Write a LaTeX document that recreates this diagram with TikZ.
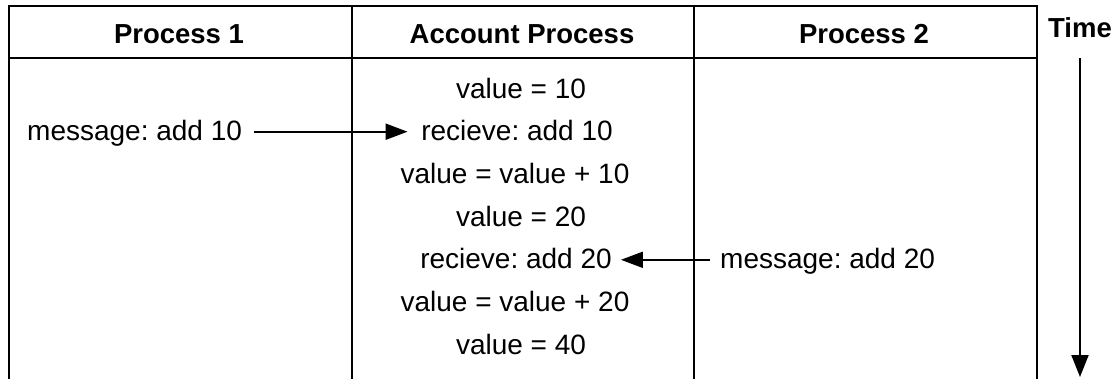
\documentclass[tikz,border=0pt]{standalone}
\usepackage{fontspec}
\setmainfont{Liberation Sans}
\usetikzlibrary{arrows.meta}

\begin{document}
\frenchspacing
\begin{tikzpicture}[x=1pt,y=-1pt,
  grid/.style={line width=2.4pt, line cap=rect},
  txt/.style={font=\fontsize{28}{32}\selectfont, inner sep=0pt,
              text height=20pt, text depth=2pt, anchor=base},
  head/.style={txt, font=\fontsize{27.5}{32}\selectfont\bfseries},
  msg/.style={line width=2pt, -{Triangle[length=22pt,width=16pt]}},
]
\useasboundingbox (0,0) rectangle (1120,378);

% table frame, open at the bottom
\draw[grid] (9,380) -- (9,6) -- (1037,6) -- (1037,380);
\draw[grid] (9,58) -- (1037,58);
\draw[grid] (352,6) -- (352,380);
\draw[grid] (694,6) -- (694,380);

% column headings
\node[head] (h1) at (179,43) {Process 1};
\node[head] (h2) at (522,43) {Account Process};
\node[head] (h3) at (864,43) {Process 2};
\node[head] (time) at (1080,37) {Time};

% account process timeline
\node[txt] (v10)  at (521,98)    {value = 10};
\node[txt] (r10)  at (517,140.7) {recieve: add 10};
\node[txt] (u10)  at (515,183.4) {value = value + 10};
\node[txt] (v20)  at (521,226)   {value = 20};
\node[txt] (r20)  at (516,268.8) {recieve: add 20};
\node[txt] (u20)  at (515,311.5) {value = value + 20};
\node[txt] (v40)  at (521,354.2) {value = 40};

% messages from the other processes
\node[txt, anchor=base west] (m10) at (27,140.7)  {message: add 10};
\node[txt, anchor=base west] (m20) at (720,268.8) {message: add 20};

\draw[msg, shorten <=12pt, shorten >=13.5pt] (m10.east) -- (r10.west);
\draw[msg, shorten <=10pt, shorten >=9pt] (m20.west) -- (r20.east);

% time axis
\coordinate (tend) at (1080,377);
\draw[line width=2pt, -{Triangle[length=22pt,width=17pt]}, shorten <=19pt]
  (time.south) -- (tend);
\end{tikzpicture}
\end{document}
